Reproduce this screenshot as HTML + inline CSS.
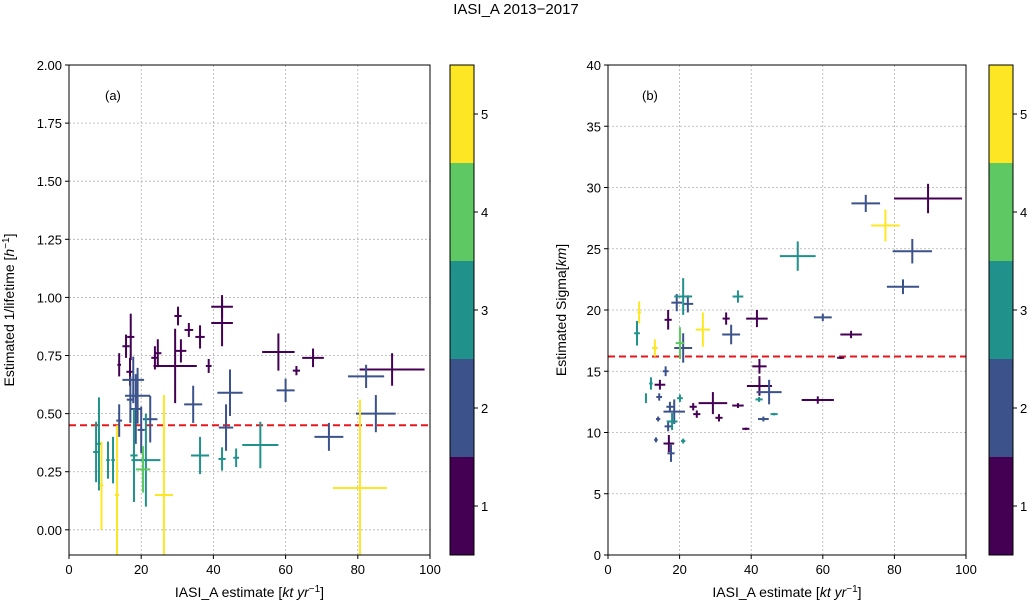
<!DOCTYPE html>
<html><head><meta charset="utf-8"><style>
body{margin:0;background:#fff;}
svg{display:block;font-family:"Liberation Sans","DejaVu Sans",sans-serif;}
</style></head><body>
<svg id="c" width="1033" height="605" viewBox="0 0 1033 605">
<defs><clipPath id="clipa"><rect x="69" y="65" width="361" height="490"/></clipPath><clipPath id="clipb"><rect x="608" y="65" width="358" height="490"/></clipPath></defs>
<text x="516" y="14" text-anchor="middle" font-size="15">IASI_A 2013−2017</text>
</svg>
<script>
// Panel (a): x, y, xerr, yerr, class
const aX=[30.2,33.2,36.3,42.4,42.4,29.4,31,38.7,24.6,23.8,13.9,15.8,17.1,16.9,58,63,67.6,89.5, 13.9,17,17.8,19,22.5,34.4,44.6,43.5,60,72,82.3,85,18.5,20, 7.5,8.3,10.8,12.2,18,21.3,36.3,42.4,46.3,53, 20.5, 9,13.3,26.3,80.6];
const aY=[0.92,0.86,0.83,0.96,0.89,0.705,0.77,0.705,0.76,0.74,0.71,0.79,0.83,0.68,0.765,0.685,0.74,0.69, 0.47,0.56,0.645,0.577,0.476,0.54,0.59,0.44,0.6,0.40,0.66,0.50,0.52,0.43, 0.335,0.37,0.30,0.30,0.32,0.30,0.32,0.305,0.31,0.365, 0.26, 0.19,0.15,0.15,0.18];
const aXE=[1,1.2,1.3,3,3,6,1.5,0.8,1,1,0.5,1,1,1,4.5,1,3,9, 0.8,1,3,3.5,2,2.5,3.5,2,2.5,4,5,5.5,1.5,1, 0.8,0.8,0.5,0.5,1,4,2.5,1,0.8,5, 2, 0.5,0.6,2.5,7.5];
const aYE=[0.04,0.03,0.05,0.05,0.1,0.16,0.05,0.03,0.06,0.05,0.05,0.05,0.1,0.06, 0.08,0.02,0.04,0.07, 0.07,0.1,0.1,0.12,0.1,0.08,0.1,0.1,0.05,0.06,0.05,0.08,0.15,0.1, 0.13,0.2,0.08,0.1,0.2,0.2,0.08,0.05,0.04,0.1, 0.1, 0.19,0.3,0.43,0.38];
const aC=[1,1,1,1,1,1,1,1,1,1,1,1,1,1,1,1,1,1, 2,2,2,2,2,2,2,2,2,2,2,2,2,2, 3,3,3,3,3,3,3,3,3,3, 4, 5,5,5,5];
// Panel (b)
const bX=[89.4,67.9,58.6,65,41.6,42.3,42.3,33,36.3,29.3,31,23.8,24.8,16.8,14.5,38.5,17, 72,85,82.4,60,34.4,21,19.2,22.3,16.1,45,43.4,18.5,17.3,14.3,16.8,17.6,14,13.4, 53,36.3,21,8.1,12,10.6,20.1,42.2,46.4,17.9,21, 20.1, 8.7,13.1,26.5,77.5];
const bY=[29.1,18.0,12.65,16.1,19.3,15.4,13.8,19.3,12.2,12.4,11.2,12.1,11.5,19.2,13.9,10.3,9.1, 28.7,24.8,21.9,19.4,18.0,16.9,20.6,20.5,15.0,13.3,11.1,11.7,12.1,12.9,10.5,8.3,11.1,9.4, 24.4,21.1,21.1,18.1,14.0,12.8,12.8,12.7,11.5,10.9,9.3, 17.3, 19.8,16.9,18.4,26.9];
const bXE=[9.5,3,4.5,1,3,2,3.5,1,1.6,4,1,1,1,1,1.5,1,1.5, 4,5.5,4.5,2.5,2.5,2.5,1.5,1.5,0.8,3.5,1.5,3,1,0.8,1,1,0.6,0.5, 5,1.5,2.5,0.8,0.5,0.2,0.8,1,1,1.5,0.6, 1.2, 0.5,0.8,2,4];
const bYE=[1.2,0.3,0.3,0.1,0.7,0.6,0.8,0.5,0.2,0.9,0.3,0.3,0.3,0.8,0.4,0.1,0.7, 0.7,1,0.6,0.3,0.8,1.2,0.7,0.7,0.4,1,0.2,1,0.4,0.3,0.4,0.7,0.2,0.2, 1.2,0.5,1.5,1,0.5,0.4,0.3,0.2,0.1,0.7,0.2, 1.3, 0.9,0.7,1.4,1.3];
const bC=[1,1,1,1,1,1,1,1,1,1,1,1,1,1,1,1,1, 2,2,2,2,2,2,2,2,2,2,2,2,2,2,2,2,2,2, 3,3,3,3,3,3,3,3,3,3,3, 4, 5,5,5,5];
const aTicksY=[0,0.25,0.5,0.75,1,1.25,1.5,1.75,2];
const aTickLab=["0.00","0.25","0.50","0.75","1.00","1.25","1.50","1.75","2.00"];
const bTicksY=[0,5,10,15,20,25,30,35,40];
const xTicks=[0,20,40,60,80,100];
const cbTicks=[1,2,3,4,5];
const colors=["#440154","#3b528b","#21918c","#5ec962","#fde725"];
const NS="http://www.w3.org/2000/svg";
const svg=document.getElementById('c');
function el(t,a,p){const e=document.createElementNS(NS,t);for(const k in a)e.setAttribute(k,a[k]);(p||svg).appendChild(e);return e;}
function panel(o){
  const g=el('g',{});
  
  
  const sx=v=>o.x0+(v-o.xmin)/(o.xmax-o.xmin)*(o.x1-o.x0);
  const sy=v=>o.y1-(v-o.ymin)/(o.ymax-o.ymin)*(o.y1-o.y0);
  xTicks.forEach(t=>{const l=el('line',{x1:sx(t),x2:sx(t),y1:o.y0,y2:o.y1,stroke:'#b0b0b0','stroke-width':0.8,'stroke-dasharray':'2,2'},g);
    });
  o.yt.forEach(t=>{const l=el('line',{x1:o.x0,x2:o.x1,y1:sy(t),y2:sy(t),stroke:'#b0b0b0','stroke-width':0.8,'stroke-dasharray':'2,2'},g);
    });
  const rl=el('line',{x1:o.x0,x2:o.x1,y1:sy(o.ref),y2:sy(o.ref),stroke:'#e8161b','stroke-width':2,'stroke-dasharray':'7,4'},g);
  
  const mg=el('g',{'clip-path':'url(#'+o.clip+')'},g);
  
  
  for(let i=0;i<o.X.length;i++){
    const pg=el('g',{stroke:colors[o.C[i]-1],'stroke-width':2},mg);
    
    
    el('line',{x1:sx(o.X[i]-o.XE[i]),x2:sx(o.X[i]+o.XE[i]),y1:sy(o.Y[i]),y2:sy(o.Y[i])},pg);
    el('line',{x1:sx(o.X[i]),x2:sx(o.X[i]),y1:sy(o.Y[i]-o.YE[i]),y2:sy(o.Y[i]+o.YE[i])},pg);
  }
  const fr=el('rect',{x:o.x0,y:o.y0,width:o.x1-o.x0,height:o.y1-o.y0,fill:'none',stroke:'#000','stroke-width':1},g);
  
  xTicks.forEach(t=>{el('line',{x1:sx(t),x2:sx(t),y1:o.y1,y2:o.y1+4,stroke:'#000'},g);
    const tx=el('text',{x:sx(t),y:o.y1+19,'text-anchor':'middle','font-size':13},g);tx.textContent=t;
    });
  o.yt.forEach((t,i)=>{el('line',{x1:o.x0-4,x2:o.x0,y1:sy(t),y2:sy(t),stroke:'#000'},g);
    const tx=el('text',{x:o.x0-7,y:sy(t)+5,'text-anchor':'end','font-size':13},g);tx.textContent=o.yl[i];
    });
  const xl=el('text',{x:(o.x0+o.x1)/2,y:597,'text-anchor':'middle','font-size':14},g);
  xl.innerHTML='IASI_A estimate [<tspan font-style="italic">kt yr</tspan><tspan dy="-5" font-size="10">−1</tspan><tspan dy="5">]</tspan>';
  
  const yl=el('text',{x:0,y:0,'text-anchor':'middle','font-size':14,transform:`translate(${o.ylx},${(o.y0+o.y1)/2}) rotate(-90)`},g);
  yl.innerHTML=o.ylab;
  
  const pl=el('text',{x:o.plx,y:100,'font-size':13},g);pl.textContent=o.pl;
  
  const cg=el('g',{},g);
  
  const cy=v=>o.y1-(v-0.5)/5*(o.y1-o.y0);
  for(let k=0;k<5;k++){el('rect',{x:o.cb,y:cy(k+1.5),width:24,height:cy(k+0.5)-cy(k+1.5),fill:colors[k]},cg);}
  el('rect',{x:o.cb,y:o.y0,width:24,height:o.y1-o.y0,fill:'none',stroke:'#000'},cg);
  cbTicks.forEach(t=>{el('line',{x1:o.cb+24,x2:o.cb+28,y1:cy(t),y2:cy(t),stroke:'#000'},cg);
    const tx=el('text',{x:o.cb+31,y:cy(t)+5,'font-size':13},cg);tx.textContent=t;
    });
}
panel({name:'panel-a',clip:'clipa',x0:69,x1:430,y0:65,y1:555,xmin:0,xmax:100,ymin:-0.1083,ymax:2,X:aX,Y:aY,XE:aXE,YE:aYE,C:aC,yt:aTicksY,yl:aTickLab,ref:0.45,cb:450,ylx:14,
  ylab:'Estimated 1/lifetime [<tspan font-style="italic">h</tspan><tspan dy="-5" font-size="10">−1</tspan><tspan dy="5">]</tspan>',pl:'(a)',plx:105});
panel({name:'panel-b',clip:'clipb',x0:608,x1:966,y0:65,y1:555,xmin:0,xmax:100,ymin:0,ymax:40,X:bX,Y:bY,XE:bXE,YE:bYE,C:bC,yt:bTicksY,yl:bTicksY.map(String),ref:16.2,cb:989,ylx:566,
  ylab:'Estimated Sigma[<tspan font-style="italic">km</tspan>]',pl:'(b)',plx:642});
</script>
</body></html>
